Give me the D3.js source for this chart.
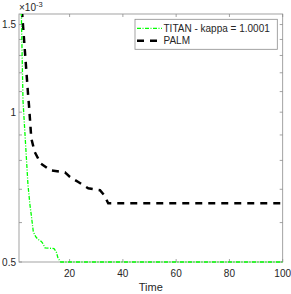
<!DOCTYPE html>
<html>
<head>
<meta charset="utf-8">
<script src="https://cdn.jsdelivr.net/npm/d3@7"></script>
<style>
  body { margin: 0; background: #fff; }
  svg { display: block; font-family: "Liberation Sans", Arial, sans-serif; }
</style>
</head>
<body>
<script>
// values are in units of 1e-3
let titanTime  = [1, 1.86, 2.5, 4.38, 5.13, 5.62, 6.37, 7.27, 8.13, 8.88, 9.75, 10.76, 14.14, 15.0, 15.64, 16.65, 100];
let titanValue = [2.3, 1.6, 1.055, 0.713, 0.65, 0.621, 0.575, 0.562, 0.555, 0.553, 0.547, 0.534, 0.532, 0.524, 0.509, 0.5, 0.5];
let palmTime   = [1, 2.24, 4.38, 4.75, 5.62, 6.89, 9.15, 12.9, 18.27, 20.14, 23.26, 27.0, 31.4, 33.0, 34.5, 100];
let palmValue  = [1.92, 1.563, 1.09, 1.032, 0.886, 0.832, 0.789, 0.764, 0.757, 0.741, 0.724, 0.703, 0.697, 0.681, 0.656, 0.656];
let xTicks = [20, 40, 60, 80, 100];
let yMajor = [0.5, 1, 1.5];
let yMinor = [0.6, 0.7, 0.8, 0.9, 1.1, 1.2, 1.3, 1.4];
let seriesNames = ['TITAN - kappa = 1.0001', 'PALM'];

let width = 291, height = 294;
let plotLeft = 19, plotRight = 282.7, plotTop = 14, plotBottom = 262;
let axisColor = '#8c8c8c', textColor = '#262626';

let svg = d3.select('body').append('svg')
  .attr('width', width)
  .attr('height', height);

let xScale = d3.scaleLinear().domain([1, 100]).range([plotLeft, plotRight]);
let yScale = d3.scaleLog().domain([0.5, 1.575]).range([plotBottom, plotTop]);

// clip only the top (lines run above the y range there), let the bottom line show
svg.append('clipPath').attr('id', 'plot')
  .append('rect')
  .attr('x', plotLeft).attr('y', plotTop)
  .attr('width', plotRight - plotLeft).attr('height', plotBottom - plotTop + 3);

// box
svg.append('rect')
  .attr('x', plotLeft).attr('y', plotTop)
  .attr('width', plotRight - plotLeft).attr('height', plotBottom - plotTop)
  .attr('fill', 'none')
  .attr('stroke', axisColor)
  .attr('stroke-width', 0.8);

// ticks (inward, mirrored on the box)
let g = svg.append('g').attr('stroke', axisColor).attr('stroke-width', 0.8);
xTicks.forEach((t) => {
  let x = xScale(t);
  g.append('line').attr('x1', x).attr('x2', x).attr('y1', plotBottom).attr('y2', plotBottom - 3);
  g.append('line').attr('x1', x).attr('x2', x).attr('y1', plotTop).attr('y2', plotTop + 3);
});
yMajor.concat(yMinor).forEach((t) => {
  let y = yScale(t);
  g.append('line').attr('x1', plotLeft).attr('x2', plotLeft + 3).attr('y1', y).attr('y2', y);
  g.append('line').attr('x1', plotRight).attr('x2', plotRight - 3).attr('y1', y).attr('y2', y);
});

// lines
let lineGen = d3.line().x((d) => xScale(d[0])).y((d) => yScale(d[1]));
let titan = titanTime.map((t, i) => [t, titanValue[i]]);
let palm = palmTime.map((t, i) => [t, palmValue[i]]);

let plot = svg.append('g').attr('clip-path', 'url(#plot)');
plot.append('path')
  .attr('d', lineGen(palm))
  .attr('fill', 'none')
  .attr('stroke', '#000')
  .attr('stroke-width', 2.5)
  .attr('stroke-dasharray', '7,6');
plot.append('path')
  .attr('d', lineGen(titan))
  .attr('fill', 'none')
  .attr('stroke', '#00ff00')
  .attr('stroke-width', 1.3)
  .attr('stroke-dasharray', '4,1.5,1,1.5');

// tick labels
svg.selectAll('.xlab').data(xTicks).enter().append('text')
  .attr('x', (d) => xScale(d))
  .attr('y', 277)
  .attr('text-anchor', 'middle')
  .attr('font-size', 10)
  .attr('fill', textColor)
  .text((d) => d);
svg.selectAll('.ylab').data(yMajor).enter().append('text')
  .attr('x', 16)
  .attr('y', (d) => yScale(d) + 3.5)
  .attr('text-anchor', 'end')
  .attr('font-size', 10)
  .attr('fill', textColor)
  .text((d) => d);

// exponent
let expo = svg.append('text')
  .attr('x', 19).attr('y', 11)
  .attr('font-size', 10)
  .attr('fill', textColor);
expo.append('tspan').text('\u00d710');
expo.append('tspan').attr('dy', -4).attr('font-size', 7.5).text('-3');

// axis label
svg.append('text')
  .attr('x', (plotLeft + plotRight) / 2)
  .attr('y', 291)
  .attr('text-anchor', 'middle')
  .attr('font-size', 11)
  .attr('fill', textColor)
  .text('Time');

// legend
let legend = svg.append('g');
legend.append('rect')
  .attr('x', 135).attr('y', 19.3)
  .attr('width', 142.3).attr('height', 30)
  .attr('fill', '#fff')
  .attr('stroke', axisColor)
  .attr('stroke-width', 0.8);
let rows = [28.3, 40.8];
legend.append('line')
  .attr('x1', 137).attr('x2', 162).attr('y1', rows[0]).attr('y2', rows[0])
  .attr('stroke', '#00ff00').attr('stroke-width', 1.3)
  .attr('stroke-dasharray', '4,1.5,1,1.5');
legend.append('line')
  .attr('x1', 137).attr('x2', 162).attr('y1', rows[1]).attr('y2', rows[1])
  .attr('stroke', '#000').attr('stroke-width', 2.5)
  .attr('stroke-dasharray', '7,6');
legend.selectAll('.ltxt').data(seriesNames).enter().append('text')
  .attr('x', 163.5)
  .attr('y', (d, i) => rows[i] + 3.5)
  .attr('font-size', 10)
  .attr('fill', textColor)
  .text((d) => d);
</script>
</body>
</html>
